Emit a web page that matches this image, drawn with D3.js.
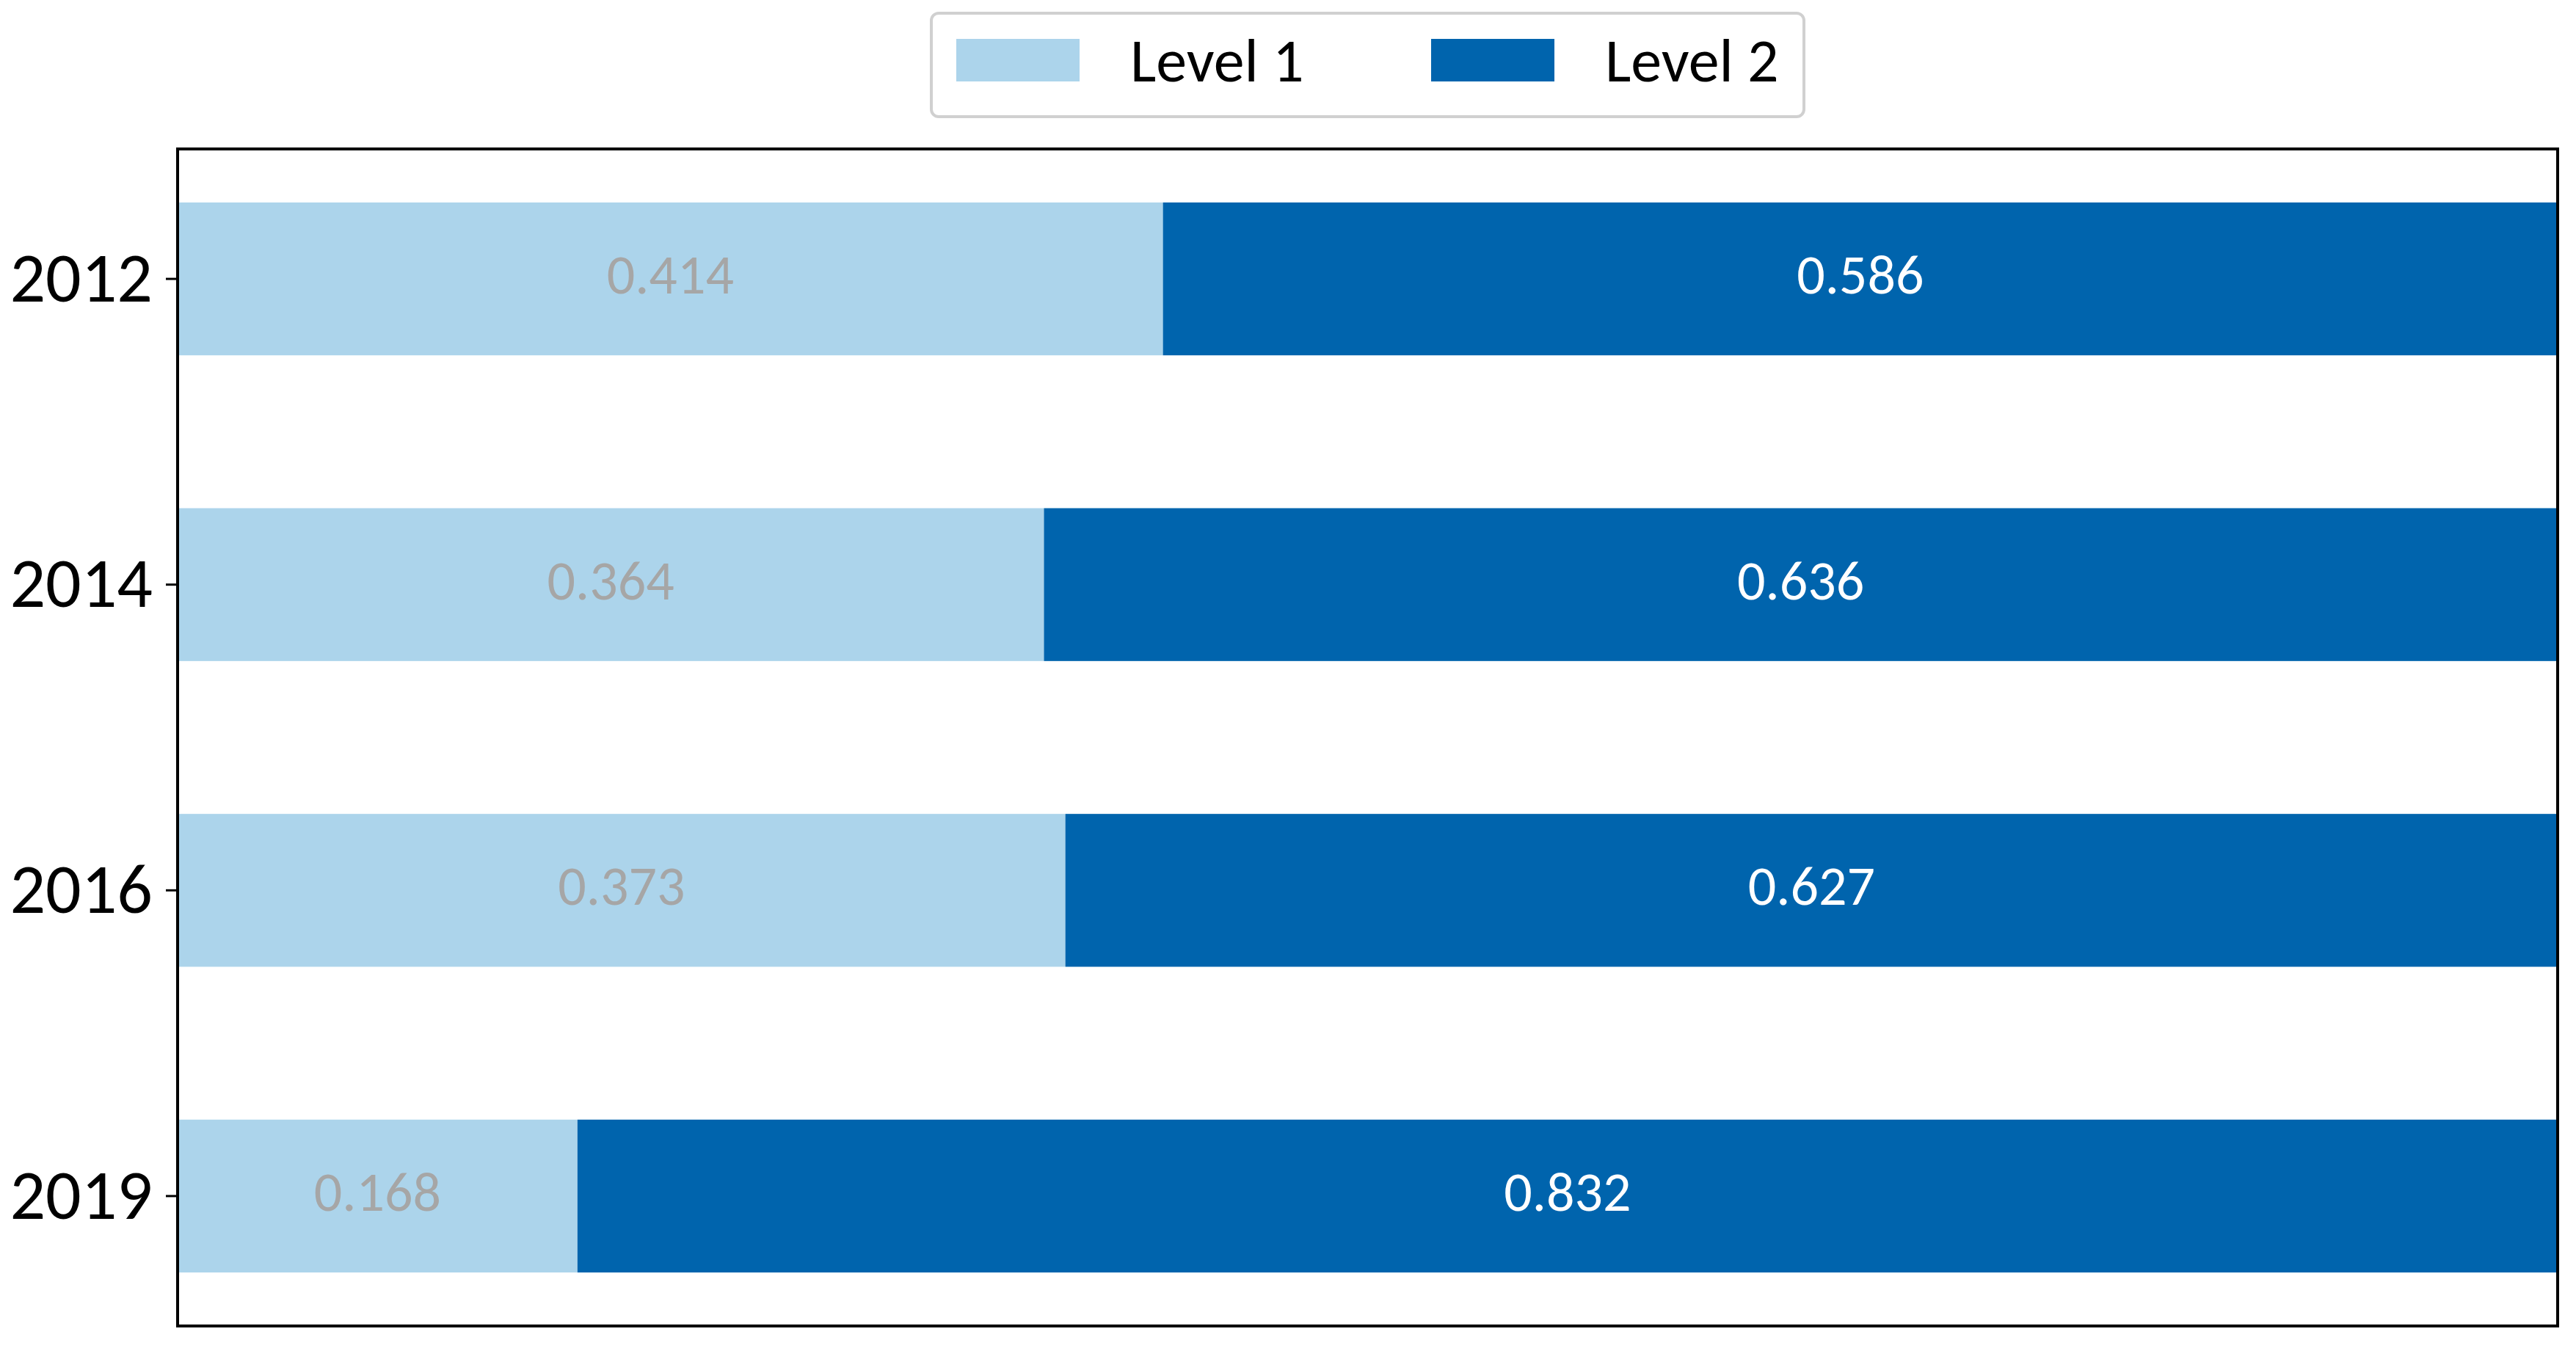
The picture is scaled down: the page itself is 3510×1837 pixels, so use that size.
<!DOCTYPE html>
<html>
<head>
<meta charset="utf-8">
<script src="https://cdn.jsdelivr.net/npm/d3@7"></script>
<style>
  body { margin: 0; background: #fff; }
  text { font-family: Carlito, Lato, "Open Sans", sans-serif; }
</style>
</head>
<body>
<div id="vis"></div>
<script>
// basic frame
const FRAME_WIDTH = 3510;
const FRAME_HEIGHT = 1837;
const MARGINS = {left: 242, right: 25, top: 203, bottom: 30};
const VIS_WIDTH = FRAME_WIDTH - MARGINS.left - MARGINS.right;
const VIS_HEIGHT = FRAME_HEIGHT - MARGINS.top - MARGINS.bottom;

// data
const years = ['2012', '2014', '2016', '2019'];
const level1 = [0.414, 0.364, 0.373, 0.168];
const level2 = [0.586, 0.636, 0.627, 0.832];
const seriesNames = ['Level 1', 'Level 2'];
const seriesColors = ['#acd4eb', '#0064ad'];
const labelColors = ['#a6a6a6', '#ffffff'];

const FRAME = d3.select('#vis')
    .append('svg')
    .attr('width', FRAME_WIDTH)
    .attr('height', FRAME_HEIGHT);

const X_SCALE = d3.scaleLinear()
    .domain([0, 1])
    .range([0, VIS_WIDTH]);

const Y_SCALE = d3.scaleBand()
    .domain(years)
    .range([0, VIS_HEIGHT])
    .paddingInner(0.5)
    .paddingOuter(0.175);

const plot = FRAME.append('g')
    .attr('transform', 'translate(' + MARGINS.left + ',' + MARGINS.top + ')');

// stack the two levels
const rows = years.map((y, i) => ({year: y, vals: [level1[i], level2[i]]}));

rows.forEach((r) => {
    let start = 0;
    r.vals.forEach((v, k) => {
        plot.append('rect')
            .attr('x', X_SCALE(start))
            .attr('y', Y_SCALE(r.year))
            .attr('width', X_SCALE(start + v) - X_SCALE(start))
            .attr('height', Y_SCALE.bandwidth())
            .attr('fill', seriesColors[k]);
        plot.append('text')
            .attr('x', X_SCALE(start + v / 2))
            .attr('y', Y_SCALE(r.year) + Y_SCALE.bandwidth() / 2 - 6)
            .attr('text-anchor', 'middle')
            .attr('dominant-baseline', 'central')
            .attr('font-size', '76px')
            .attr('fill', labelColors[k])
            .text(v.toFixed(3));
        start += v;
    });
});

// y axis
const yAxis = plot.append('g')
    .call(d3.axisLeft(Y_SCALE).tickSize(16).tickPadding(18));
yAxis.select('.domain').remove();
yAxis.selectAll('line').attr('stroke', '#000').attr('stroke-width', 3);
yAxis.selectAll('text')
    .attr('font-size', '96px')
    .attr('fill', '#000');

// frame box
plot.append('rect')
    .attr('x', 0)
    .attr('y', 0)
    .attr('width', VIS_WIDTH)
    .attr('height', VIS_HEIGHT)
    .attr('fill', 'none')
    .attr('stroke', '#000')
    .attr('stroke-width', 4);

// legend
const legend = FRAME.append('g');
legend.append('rect')
    .attr('x', 1269)
    .attr('y', 18)
    .attr('width', 1189)
    .attr('height', 141)
    .attr('rx', 10)
    .attr('fill', '#fff')
    .attr('stroke', '#d0d0d0')
    .attr('stroke-width', 4);

const legendX = [1303, 1950];
seriesNames.forEach((name, k) => {
    legend.append('rect')
        .attr('x', legendX[k])
        .attr('y', 53)
        .attr('width', 168)
        .attr('height', 58)
        .attr('fill', seriesColors[k]);
    legend.append('text')
        .attr('x', legendX[k] + 237)
        .attr('y', 82)
        .attr('dominant-baseline', 'central')
        .attr('font-size', '84px')
        .attr('fill', '#000')
        .text(name);
});
</script>
</body>
</html>
